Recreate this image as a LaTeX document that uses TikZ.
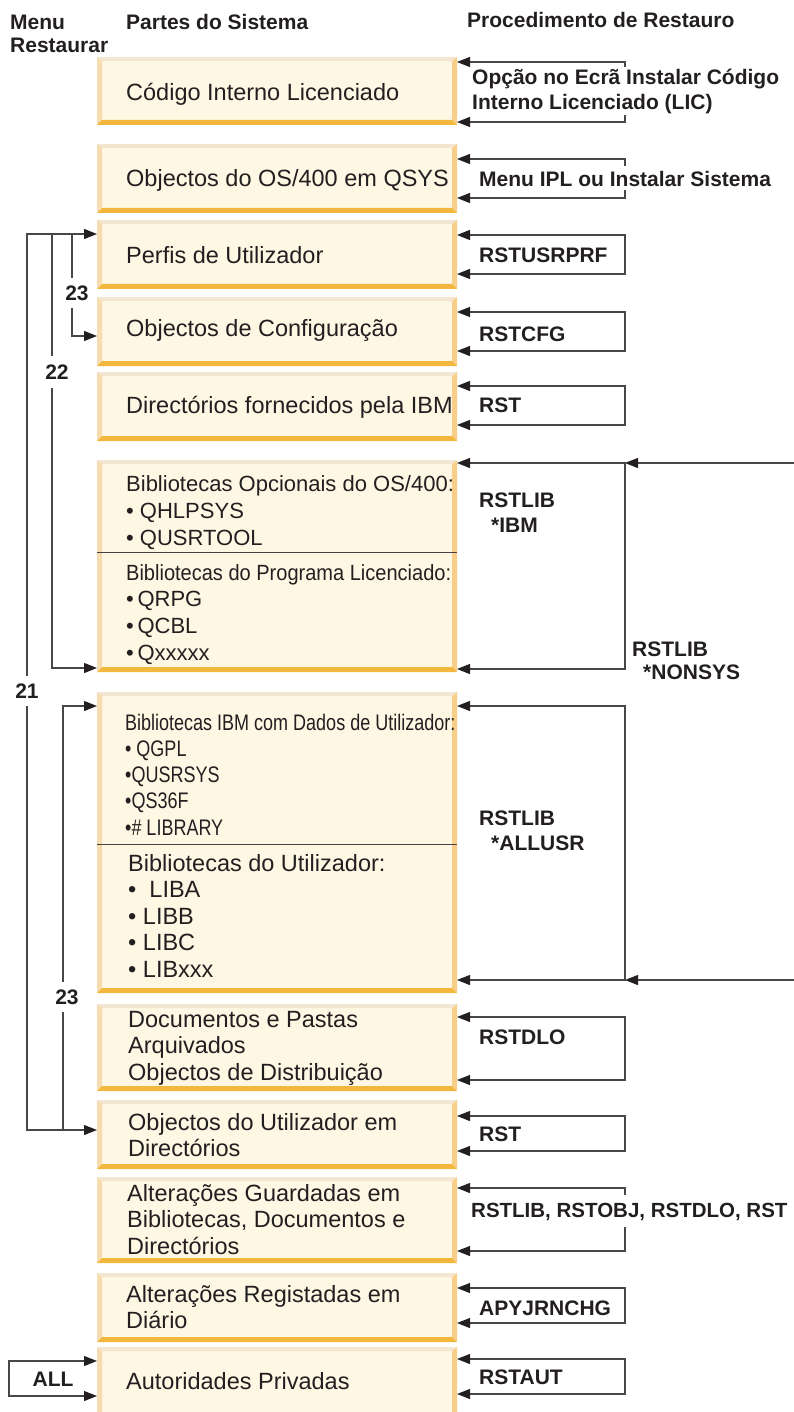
\documentclass[tikz,border=0pt]{standalone}
\usepackage{fontspec}
\setmainfont{Liberation Sans}
\newfontfamily\narrowfont[FakeStretch=0.80]{Liberation Sans}
\newfontfamily\semifont[FakeStretch=0.91]{Liberation Sans}
\usetikzlibrary{arrows.meta}
\definecolor{boxfill}{HTML}{FEF7E4}
\definecolor{bevtop}{HTML}{F2E6D0}
\definecolor{bevleft}{HTML}{F6DCAE}
\definecolor{bevright}{HTML}{F8CF88}
\definecolor{bevbottom}{HTML}{F4B73E}
\definecolor{txt}{HTML}{231F20}

\tikzset{
  partbox/.style={fill=boxfill, minimum width=360pt, inner sep=0pt, outer sep=0pt},
  conn/.style={draw=black!72, line width=1.1pt, >={Triangle[length=13pt,width=10pt,color=txt]}},
  head/.style={font=\bfseries\fontsize{21}{23}\selectfont, inner sep=0pt, text=txt, align=left},
  proc/.style={font=\bfseries\fontsize{21}{25}\selectfont, inner sep=0pt, text=txt, align=left},
  part/.style={font=\fontsize{23.5}{26.5}\selectfont, inner sep=0pt, text=txt, align=left},
  numlbl/.style={font=\bfseries\fontsize{21}{23}\selectfont, inner xsep=0pt, inner ysep=7.5pt, text=txt}
}

\begin{document}
\begin{tikzpicture}[x=1pt,y=-1pt]
  \useasboundingbox (0,0) rectangle (794,1412);

  % column heads
  \node[head,anchor=north west] (hmenu) at (10,14.5) {Menu\\Restaurar};
  \node[head,anchor=base west] (hparts) at (126,29.5) {Partes do Sistema};
  \node[head,anchor=base west] (hproc) at (467,27.5) {Procedimento de Restauro};

  % the bevelled boxes
  \foreach \n/\ytop/\ybot in {1/57/125,2/144/213,3/220/289,4/297/366,5/372/441,6/460/672,7/692/993,8/1004/1091,9/1100/1169,10/1177/1263,11/1273/1342,12/1347/1418}{
    \pgfmathsetmacro\h{\ybot-\ytop}
    \node[partbox,minimum height=\h pt] (b\n) at (277,{(\ytop+\ybot)/2}) {};
    \fill[bevleft] (b\n.north west) -- ++(5,4) -- ([shift={(5,-5)}]b\n.south west) -- (b\n.south west) -- cycle;
    \fill[bevright] (b\n.north east) -- ++(-5,4) -- ([shift={(-5,-5)}]b\n.south east) -- (b\n.south east) -- cycle;
    \fill[bevtop] (b\n.north west) -- (b\n.north east) -- ++(-5,4) -- ([shift={(5,4)}]b\n.north west) -- cycle;
    \fill[bevbottom] (b\n.south west) -- (b\n.south east) -- ++(-5,-5) -- ([shift={(5,-5)}]b\n.south west) -- cycle;
  }
  \draw[txt!85,line width=0.8pt] (b6.west |- 0,552) -- (b6.east |- 0,552);
  \draw[txt!85,line width=0.8pt] (b7.west |- 0,844) -- (b7.east |- 0,844);

  % texts in the boxes
  \node[part,anchor=base west] (t1) at (126,100.4) {Código Interno Licenciado};
  \node[part,anchor=base west] (t2) at (126,186.4) {Objectos do OS/400 em QSYS};
  \node[part,anchor=base west] (t3) at (126,263.4) {Perfis de Utilizador};
  \node[part,anchor=base west] (t4) at (126,336.4) {Objectos de Configuração};
  \node[part,anchor=base west] (t5) at (126,413.4) {Directórios fornecidos pela IBM};
  \node[part,anchor=north west,font=\fontsize{22}{27}\selectfont] (t6a) at (126,475) {Bibliotecas Opcionais do OS/400:\\• QHLPSYS\\• QUSRTOOL};
  \node[part,anchor=north west,font=\fontsize{22}{26.7}\selectfont] (t6b) at (126,564) {{\semifont Bibliotecas do Programa Licenciado:}\\•\,QRPG\\•\,QCBL\\•\,Qxxxxx};
  \node[part,anchor=north west,font=\narrowfont\fontsize{22.5}{26.3}\selectfont] (t7a) at (125,713.5) {Bibliotecas IBM com Dados de Utilizador:\\• QGPL\\•QUSRSYS\\•QS36F\\•\# LIBRARY};
  \node[part,anchor=north west] (t7b) at (128,854) {Bibliotecas do Utilizador:\\•\ \ LIBA\\• LIBB\\• LIBC\\• LIBxxx};
  \node[part,anchor=north west] (t8) at (128,1011) {Documentos e Pastas\\Arquivados\\Objectos de Distribuição};
  \node[part,anchor=north west] (t9) at (128,1113) {Objectos do Utilizador em\\Directórios};
  \node[part,anchor=north west] (t10) at (127,1184) {Alterações Guardadas em\\Bibliotecas, Documentos e\\Directórios};
  \node[part,anchor=north west] (t11) at (126,1285) {Alterações Registadas em\\Diário};
  \node[part,anchor=base west] (t12) at (126,1389.4) {Autoridades Privadas};

  % restore procedures on the right
  \foreach \n/\ya/\yb in {3/235/274,4/312/351,5/386/425,6/463/669,7/706/980,8/1017/1080,9/1116/1151,11/1288/1323,12/1359/1394}
    \draw[conn,<->] (b\n.east |- 0,\ya) -- (625,\ya) -- (625,\yb) -- (b\n.east |- 0,\yb);
  \foreach \n/\ya/\yc/\yd/\yb in {1/62/67/115/122,2/159/166/190/198,10/1188/1195/1227/1251}{
    \draw[conn,->] (625,\yc) -- (625,\ya) -- (b\n.east |- 0,\ya);
    \draw[conn,->] (625,\yd) -- (625,\yb) -- (b\n.east |- 0,\yb);
  }
  \coordinate (inA) at (794,463);
  \coordinate (inB) at (794,980);
  \coordinate (jA) at (625,463);
  \coordinate (jB) at (625,980);
  \draw[conn,->] (inA) -- (jA);
  \draw[conn,->] (inB) -- (jB);

  \node[proc,anchor=north west] (p1) at (472,69) {Opção no Ecrã Instalar Código\\Interno Licenciado (LIC)};
  \node[proc,anchor=base west] (p2) at (479,186.5) {Menu IPL ou Instalar Sistema};
  \node[proc,anchor=base west] (p3) at (479,262.5) {RSTUSRPRF};
  \node[proc,anchor=base west] (p4) at (479,341.5) {RSTCFG};
  \node[proc,anchor=base west] (p5) at (479,412.5) {RST};
  \node[proc,anchor=north west] (p6) at (479,492.5) {RSTLIB\\\hspace*{12pt}*IBM};
  \node[proc,anchor=north west,font=\bfseries\fontsize{21}{23}\selectfont] (p6n) at (632,641.5) {RSTLIB\\\hspace*{11pt}*NONSYS};
  \node[proc,anchor=north west] (p7) at (479,810.5) {RSTLIB\\\hspace*{12pt}*ALLUSR};
  \node[proc,anchor=base west] (p8) at (479,1044.5) {RSTDLO};
  \node[proc,anchor=base west] (p9) at (479,1141.5) {RST};
  \node[proc,anchor=base west,font=\bfseries\fontsize{20.5}{25}\selectfont] (p10) at (471,1217.5) {RSTLIB, RSTOBJ, RSTDLO, RST};
  \node[proc,anchor=base west] (p11) at (479,1315.5) {APYJRNCHG};
  \node[proc,anchor=base west] (p12) at (479,1384.5) {RSTAUT};

  % restore menu options on the left
  \node[numlbl] (n21) at (27,691) {21};
  \node[numlbl,inner ysep=8.5pt] (n22) at (57,372) {22};
  \node[numlbl] (n23a) at (77,293) {23};
  \node[numlbl] (n23b) at (67,997) {23};
  \draw[conn,->] (n21.north) -- (n21.north |- 0,234) -- (b3.west |- 0,234);
  \draw[conn,->] (n21.south) -- (n21.south |- 0,1130) -- (b9.west |- 0,1130);
  \draw[conn] (52,234) -- (n22.north -| 52,0);
  \draw[conn,->] (n22.south -| 52,0) -- (52,668) -- (b6.west |- 0,668);
  \draw[conn] (72,234) -- (n23a.north -| 72,0);
  \draw[conn,->] (n23a.south -| 72,0) -- (72,336) -- (b4.west |- 0,336);
  \draw[conn,->] (n23b.north -| 63,0) -- (63,706) -- (b7.west |- 0,706);
  \draw[conn] (n23b.south -| 63,0) -- (63,1130);
  \node[proc] (nall) at (53,1379) {ALL};
  \draw[conn,<->] (b12.west |- 0,1361) -- (9,1361) -- (9,1396) -- (b12.west |- 0,1396);
\end{tikzpicture}
\end{document}
